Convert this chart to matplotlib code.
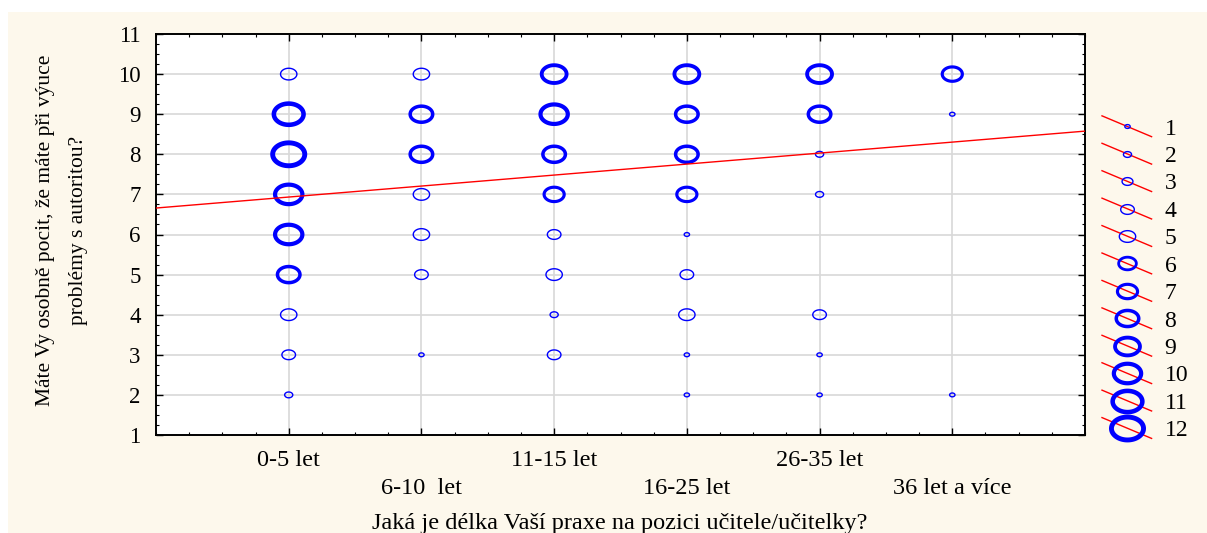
import numpy as np
import matplotlib
matplotlib.use("Agg")
import matplotlib.pyplot as plt
from matplotlib.path import Path
from matplotlib.patches import Rectangle
from matplotlib.lines import Line2D
from matplotlib.legend_handler import HandlerBase
from matplotlib.ticker import MultipleLocator

plt.rcParams["font.family"] = ["Liberation Serif", "DejaVu Serif"]

# data
categories = ["0-5 let", "6-10  let", "11-15 let", "16-25 let", "26-35 let", "36 let a více"]
answers = [2, 3, 4, 5, 6, 7, 8, 9, 10]
# counts per category, one value per answer 2..10 (0 = no bubble)
counts_0_5 = [2, 4, 5, 8, 10, 10, 12, 11, 5]
counts_6_10 = [0, 1, 0, 4, 5, 5, 8, 8, 5]
counts_11_15 = [0, 4, 2, 5, 4, 7, 8, 10, 9]
counts_16_25 = [1, 1, 5, 4, 1, 7, 8, 8, 9]
counts_26_35 = [1, 1, 4, 0, 0, 2, 2, 8, 9]
counts_36_plus = [1, 0, 0, 0, 0, 0, 0, 1, 7]
legend_counts = list(range(1, 13))
# fitted line (category index on x)
fit_intercept = 6.66
fit_slope = 0.274

all_counts = [counts_0_5, counts_6_10, counts_11_15, counts_16_25, counts_26_35, counts_36_plus]

BLUE = "#0000ff"
CREAM = "#fdf8ec"
PX = 72 / 100  # points per pixel

# ellipse marker (source image was stretched horizontally)
t = np.linspace(0, 2 * np.pi, 73)
ELLIPSE = Path(np.column_stack([1.4 * np.cos(t), np.sin(t)]), closed=True)


def bubble_style(n):
    """marker size (pt) and edge width (pt) for a count n"""
    lw_px = 1.4 if n <= 5 else 2.8 + (n - 6) * 0.35
    width_px = 4.0 + 2.75 * n
    return (width_px - lw_px) * PX, lw_px * PX


class DiagHandler(HandlerBase):
    def create_artists(self, legend, orig_handle, xdescent, ydescent,
                       width, height, fontsize, trans):
        x0, x1 = -xdescent, -xdescent + width
        yc = -ydescent + height / 2
        dy = 0.21 * width
        ln = Line2D([x0, x1], [yc + dy, yc - dy], color="red", lw=1.0)
        mk = Line2D([(x0 + x1) / 2], [yc], ls="none", marker=ELLIPSE,
                    ms=orig_handle.get_markersize(), mew=orig_handle.get_markeredgewidth(),
                    mec=BLUE, mfc="none")
        ln.set_transform(trans)
        mk.set_transform(trans)
        return [ln, mk]


fig = plt.figure(figsize=(12.07, 5.33), dpi=100)
fig.patch.set_facecolor("white")
fig.patches.append(Rectangle((8 / 1207, 0), 1, (533 - 12) / 533, transform=fig.transFigure,
                             facecolor=CREAM, edgecolor="none", zorder=-10))

ax = fig.add_axes([156 / 1207, 98 / 533, 929 / 1207, 401 / 533])
ax.set_facecolor("white")

xs, ys, ss, lws = [], [], [], []
for i, col in enumerate(all_counts):
    for a, n in zip(answers, col):
        if n > 0:
            ms, lw = bubble_style(n)
            xs.append(i + 1)
            ys.append(a)
            ss.append(ms ** 2)
            lws.append(lw)
ax.scatter(xs, ys, s=ss, marker=ELLIPSE, facecolors="none", edgecolors=BLUE,
           linewidths=lws, zorder=3)

xfit = np.array([0, len(categories) + 1])
ax.plot(xfit, fit_intercept + fit_slope * xfit, color="red", lw=1.0, zorder=4)

ax.set_xlim(0, len(categories) + 1)
ax.set_ylim(1, 11)
ax.set_xticks(range(1, len(categories) + 1))
ax.set_xticklabels([])
ax.xaxis.set_minor_locator(MultipleLocator(0.25))
ax.set_yticks(range(1, 12))
ax.yaxis.set_minor_locator(MultipleLocator(0.25))
ax.tick_params(which="both", direction="in", top=True, right=True, color="black")
ax.tick_params(which="major", length=5, width=1.0, labelsize=16.5, pad=11)
ax.tick_params(which="minor", length=2.5, width=0.8)
ax.grid(True, which="major", color="#d8d8d8", lw=1.2, zorder=0)
ax.set_axisbelow(True)
for sp in ax.spines.values():
    sp.set_linewidth(1.4)

# staggered category labels
for i, lab in enumerate(categories):
    off = -26 if i % 2 == 0 else -53
    ax.annotate(lab, xy=(i + 1, 0), xycoords=("data", "axes fraction"),
                xytext=(0, off), textcoords="offset pixels",
                ha="center", va="center", fontsize=17.5)

fig.text(620 / 1207, 9 / 533, "Jaká je délka Vaší praxe na pozici učitele/učitelky?",
         ha="center", va="center", fontsize=17.5)
fig.text(62 / 1207, 1 - 230 / 533,
         "Máte Vy osobně pocit, že máte při výuce\nproblémy s autoritou?",
         rotation=90, ha="center", va="center", multialignment="center",
         fontsize=15.5, linespacing=2.0)

handles = []
for n in legend_counts:
    ms, lw = bubble_style(n)
    handles.append(Line2D([], [], marker=ELLIPSE, ms=ms, mew=lw, ls="none"))
fig.legend(handles, [str(n) for n in legend_counts], handler_map={Line2D: DiagHandler()},
           loc="upper left", bbox_to_anchor=(1102 / 1207, 1 - 118 / 533),
           frameon=False, fontsize=17, handlelength=2.1, handletextpad=0.55,
           labelspacing=0.25, borderpad=0, borderaxespad=0)

fig.savefig("out.png", dpi=100, facecolor=fig.get_facecolor())
